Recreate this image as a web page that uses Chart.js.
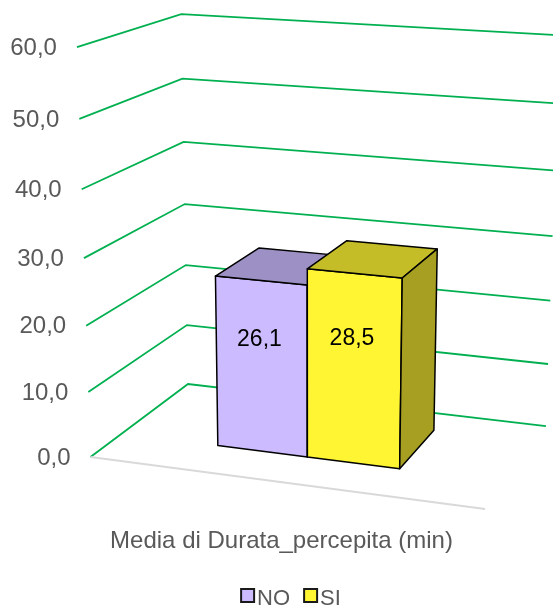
<!DOCTYPE html>
<html lang="it">
<head>
<meta charset="utf-8">
<title>Media di Durata_percepita</title>
<script src="https://cdn.jsdelivr.net/npm/chart.js@4.4.1/dist/chart.umd.min.js"></script>
<style>
  html, body { margin: 0; background: #fff; }
  #wrap { width: 553px; height: 605px; }
</style>
</head>
<body>
<div id="wrap"><canvas id="chart"></canvas></div>
<script>
const categories = ['Media di Durata_percepita (min)'];
const seriesNames = ['NO', 'SI'];
const noValues = [26.1];
const siValues = [28.5];
const yTicks = [0, 10, 20, 30, 40, 50, 60];

// perspective view of the plot box (x, value, depth all 0..1 -> canvas px)
const camera = [
  364.005215, -17.982799, 118.808576, 90.495661,
  19.944975, -412.560851, -29.4036255, 456.95370756,
  -0.06312274, -0.05782475, 0.11329654
];
const depthFront = 0.30;
const depthBack = 0.785;
const labelLift = 0.66;
const fontFamily = '"Liberation Sans", Arial, sans-serif';

const fmt = v => v.toFixed(1).replace('.', ',');

function project(X, Y, Z) {
  const c = camera;
  const w = c[8] * X + c[9] * Y + c[10] * Z + 1;
  return {
    x: (c[0] * X + c[1] * Y + c[2] * Z + c[3]) / w,
    y: (c[4] * X + c[5] * Y + c[6] * Z + c[7]) / w
  };
}

function shade(hex, f) {
  const n = parseInt(hex.slice(1), 16);
  const r = Math.round(((n >> 16) & 255) * f);
  const g = Math.round(((n >> 8) & 255) * f);
  const b = Math.round((n & 255) * f);
  return `rgb(${r},${g},${b})`;
}

function face(ctx, pts, fill) {
  ctx.beginPath();
  pts.forEach((p, i) => i ? ctx.lineTo(p.x, p.y) : ctx.moveTo(p.x, p.y));
  ctx.closePath();
  ctx.fillStyle = fill;
  ctx.fill();
  ctx.stroke();
}

const box3d = {
  id: 'box3d',
  beforeDatasetsDraw(chart) {
    const { ctx, chartArea: a } = chart;
    const yScale = chart.scales.y;
    const nx = px => (px - a.left) / (a.right - a.left);
    const ny = py => (a.bottom - py) / (a.bottom - a.top);
    ctx.save();

    // walls + value labels
    ctx.strokeStyle = '#00B050';
    ctx.lineWidth = 1.8;
    ctx.font = '24px ' + fontFamily;
    ctx.fillStyle = '#595959';
    ctx.textAlign = 'right';
    ctx.textBaseline = 'middle';
    yTicks.forEach(v => {
      const Y = ny(yScale.getPixelForValue(v));
      const p0 = project(0, Y, 0), p1 = project(0, Y, 1), p2 = project(1, Y, 1);
      ctx.beginPath();
      ctx.moveTo(p0.x, p0.y);
      ctx.lineTo(p1.x, p1.y);
      ctx.lineTo(p2.x, p2.y);
      ctx.stroke();
      ctx.fillText(fmt(v), p0.x - 20, p0.y + 1);
    });

    // floor front edge
    const f0 = project(0, 0, 0), f1 = project(1, 0, 0);
    ctx.strokeStyle = '#D9D9D9';
    ctx.lineWidth = 2;
    ctx.beginPath();
    ctx.moveTo(f0.x, f0.y);
    ctx.lineTo(f1.x, f1.y);
    ctx.stroke();

    // columns
    const labels = [];
    ctx.strokeStyle = '#000';
    ctx.lineWidth = 1.5;
    ctx.lineJoin = 'round';
    chart.data.datasets.forEach((ds, i) => {
      chart.getDatasetMeta(i).data.forEach((bar, j) => {
        const { x, y, base, width } = bar.getProps(['x', 'y', 'base', 'width']);
        const X0 = nx(x - width / 2), X1 = nx(x + width / 2);
        const Y0 = ny(base), Y1 = ny(y);
        const Z0 = depthFront, Z1 = depthBack;
        face(ctx, [project(X0, Y0, Z0), project(X1, Y0, Z0), project(X1, Y1, Z0), project(X0, Y1, Z0)], ds.backgroundColor);
        face(ctx, [project(X0, Y1, Z0), project(X1, Y1, Z0), project(X1, Y1, Z1), project(X0, Y1, Z1)], shade(ds.backgroundColor, 0.77));
        face(ctx, [project(X1, Y0, Z0), project(X1, Y0, Z1), project(X1, Y1, Z1), project(X1, Y1, Z0)], shade(ds.backgroundColor, 0.65));
        labels.push({ text: fmt(ds.data[j]), at: project((X0 + X1) / 2, Y0 + (Y1 - Y0) * labelLift, Z0) });
      });
    });

    ctx.fillStyle = '#000';
    ctx.font = '23px ' + fontFamily;
    ctx.textAlign = 'center';
    ctx.textBaseline = 'middle';
    labels.forEach(l => ctx.fillText(l.text, l.at.x - 2, l.at.y));

    ctx.restore();
    return false;
  }
};

const legendCenterX = 291;
const legendBox = {
  id: 'legendBox',
  afterDraw(chart) {
    const ctx = chart.ctx;
    ctx.save();
    ctx.font = '22px ' + fontFamily;
    const items = chart.data.datasets.map(ds => ({ ds, tw: ctx.measureText(ds.label).width }));
    const total = items.reduce((s, it) => s + 16 + it.tw, 0) + 14 * (items.length - 1);
    let x = legendCenterX - total / 2;
    items.forEach(({ ds, tw }) => {
      ctx.fillStyle = ds.backgroundColor;
      ctx.fillRect(x, 589, 13, 13);
      ctx.strokeStyle = '#1a1a1a';
      ctx.lineWidth = 2;
      ctx.strokeRect(x, 589, 13, 13);
      ctx.fillStyle = '#595959';
      ctx.textAlign = 'left';
      ctx.textBaseline = 'alphabetic';
      ctx.fillText(ds.label, x + 16, 605);
      x += 16 + tw + 14;
    });
    ctx.restore();
  }
};

new Chart(document.getElementById('chart'), {
  type: 'bar',
  data: {
    labels: categories,
    datasets: [
      { label: seriesNames[0], data: noValues, backgroundColor: '#CCBBFF', borderColor: '#000', borderWidth: 1.5 },
      { label: seriesNames[1], data: siValues, backgroundColor: '#FFF533', borderColor: '#000', borderWidth: 1.5 }
    ]
  },
  options: {
    responsive: true,
    maintainAspectRatio: false,
    animation: false,
    layout: { padding: { left: 10, right: 0, top: 20, bottom: 34 } },
    datasets: { bar: { categoryPercentage: 0.4754, barPercentage: 1 } },
    plugins: {
      legend: { display: false },
      tooltip: { enabled: false }
    },
    scales: {
      y: { display: false, min: 0, max: 60, ticks: { stepSize: 10 } },
      x: {
        grid: { display: false, drawTicks: false },
        border: { display: false },
        ticks: {
          color: '#595959',
          padding: 15,
          maxRotation: 0,
          font: { family: fontFamily, size: 24 }
        }
      }
    }
  },
  plugins: [box3d, legendBox]
});
</script>
</body>
</html>
